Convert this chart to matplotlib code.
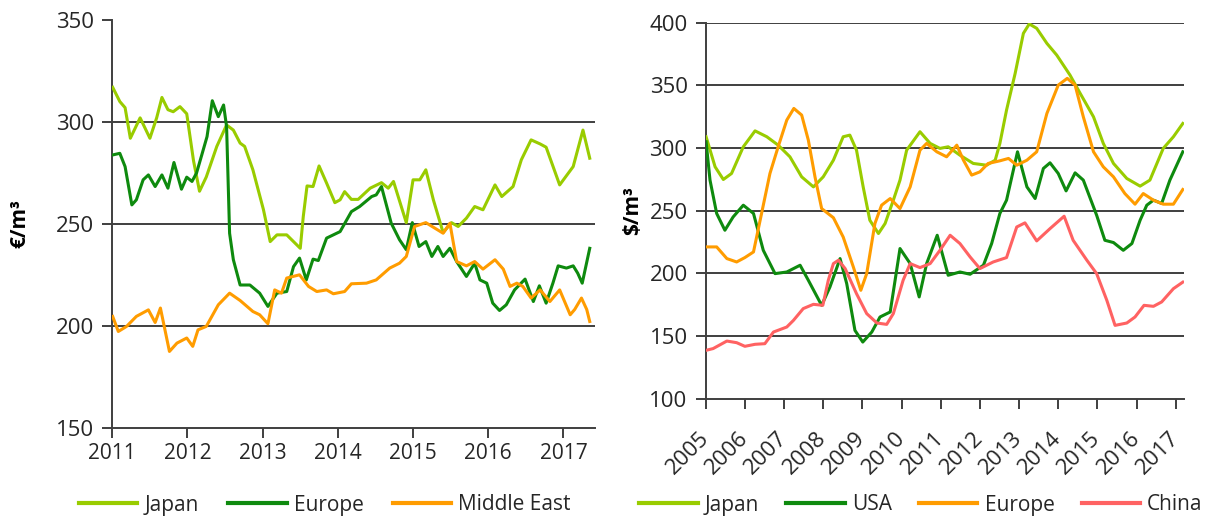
import matplotlib
matplotlib.use("Agg")
import matplotlib.pyplot as plt
from matplotlib.lines import Line2D

plt.rcParams['font.family'] = ['Open Sans', 'DejaVu Sans']

# ---------------- Left chart data (EUR/m3) ----------------
l_japan_t = [2011.005, 2011.10, 2011.17, 2011.24, 2011.37, 2011.50, 2011.59, 2011.66, 2011.74, 2011.81,
             2011.90, 2011.99, 2012.08, 2012.16, 2012.25, 2012.39, 2012.52, 2012.61, 2012.70, 2012.76,
             2012.87, 2013.01, 2013.10, 2013.19, 2013.32, 2013.41, 2013.50, 2013.54, 2013.59, 2013.67,
             2013.75, 2013.85, 2013.96, 2014.03, 2014.09, 2014.18, 2014.27, 2014.43, 2014.58, 2014.67,
             2014.74, 2014.91, 2015.00, 2015.09, 2015.17, 2015.27, 2015.40, 2015.51, 2015.60, 2015.71,
             2015.82, 2015.93, 2016.09, 2016.18, 2016.33, 2016.44, 2016.57, 2016.69, 2016.77, 2016.95,
             2017.13, 2017.26, 2017.35]
l_japan_v = [317, 310, 307, 292, 302, 292, 302, 312, 306, 305,
             307.5, 304, 281, 266, 273, 288, 298.5, 296, 289.6, 288,
             276.5, 257, 241.3, 244.6, 244.6, 241.3, 238, 253.6, 268.6, 268.3,
             278.4, 270, 260.4, 261.8, 265.8, 262, 262, 267.5, 270.2, 267.5,
             270.8, 250.6, 271.6, 271.6, 276.5, 261.8, 245.7, 250.6, 248.7, 252.8,
             258.5, 256.9, 269.1, 263.4, 268.3, 281.4, 291.2, 289.2, 287.6, 269.1,
             278.1, 296, 282.2]

l_europe_t = [2011.005, 2011.10, 2011.17, 2011.26, 2011.32, 2011.41, 2011.48, 2011.57, 2011.66, 2011.74,
              2011.82, 2011.92, 2011.99, 2012.06, 2012.12, 2012.19, 2012.26, 2012.33, 2012.41, 2012.48,
              2012.52, 2012.56, 2012.61, 2012.70, 2012.83, 2012.96, 2013.07, 2013.19, 2013.32, 2013.41,
              2013.49, 2013.58, 2013.67, 2013.74, 2013.85, 2014.03, 2014.18, 2014.29, 2014.45, 2014.51,
              2014.58, 2014.71, 2014.82, 2014.91, 2014.99, 2015.08, 2015.17, 2015.25, 2015.33, 2015.40,
              2015.49, 2015.58, 2015.71, 2015.82, 2015.89, 2015.98, 2016.06, 2016.15, 2016.24, 2016.35,
              2016.49, 2016.60, 2016.68, 2016.77, 2016.86, 2016.93, 2017.04, 2017.13, 2017.19, 2017.25,
              2017.35]
l_europe_v = [283.8, 284.6, 278.1, 259.3, 261.8, 271.6, 274, 268.3, 274, 267.5,
              280.1, 267, 272.9, 270.8, 274.9, 283.8, 292.8, 310.4, 302.6, 308.3,
              297.7, 245.4, 232.4, 220, 220, 216, 209.5, 216, 216.8, 229,
              233.2, 222.5, 232.7, 232, 243, 246.2, 256, 258.5, 263.4, 264.2,
              268.3, 250.3, 242.2, 237.3, 250.6, 238.9, 241.3, 234, 238.9, 234,
              238, 231.5, 224.2, 230.7, 222.5, 220.9, 211.1, 207.5, 210.3, 217.6,
              222.9, 211.9, 219.6, 211.1, 220.9, 229.4, 228.3, 229.4, 225.8, 220.9,
              238]

l_mideast_t = [2011.005, 2011.08, 2011.19, 2011.32, 2011.48, 2011.57, 2011.64, 2011.76, 2011.86, 2011.99,
               2012.07, 2012.14, 2012.25, 2012.41, 2012.56, 2012.70, 2012.87, 2012.96, 2013.07, 2013.16,
               2013.25, 2013.32, 2013.49, 2013.61, 2013.72, 2013.85, 2013.94, 2014.09, 2014.18, 2014.38,
               2014.51, 2014.69, 2014.82, 2014.91, 2015.02, 2015.17, 2015.40, 2015.49, 2015.58, 2015.71,
               2015.82, 2015.93, 2016.09, 2016.20, 2016.29, 2016.38, 2016.46, 2016.57, 2016.69, 2016.82,
               2016.95, 2017.09, 2017.15, 2017.24, 2017.31, 2017.35]
l_mideast_v = [204.6, 197.2, 199.7, 204.6, 207.8, 201.6, 208.7, 187.4, 191.5, 194,
               189.9, 198, 199.7, 210.3, 216, 212.4, 207, 205.4, 201, 217.6,
               216, 223.4, 225, 219.3, 216.8, 217.6, 215.7, 216.8, 220.6, 220.9,
               222.5, 228.3, 230.7, 234, 248.7, 250.6, 245.4, 250.3, 231.5, 229.4,
               231.5, 227.8, 232.4, 227.8, 219.3, 220.9, 219.3, 213.6, 217.6, 211.9,
               217.6, 205.4, 208, 213.6, 208, 202.1]

left_years = [2011, 2012, 2013, 2014, 2015, 2016, 2017]
left_yticks = [150, 200, 250, 300, 350]

# ---------------- Right chart data (USD/m3) ----------------
r_japan_t = [2005.01, 2005.24, 2005.45, 2005.66, 2005.96, 2006.26, 2006.56, 2006.85, 2007.15, 2007.45,
             2007.75, 2008.00, 2008.26, 2008.51, 2008.68, 2008.85, 2009.02, 2009.19, 2009.41, 2009.58,
             2009.79, 2009.96, 2010.13, 2010.47, 2010.73, 2010.98, 2011.19, 2011.49, 2011.83, 2012.17,
             2012.39, 2012.51, 2012.68, 2012.90, 2013.11, 2013.26, 2013.45, 2013.71, 2013.96, 2014.30,
             2014.56, 2014.90, 2015.15, 2015.41, 2015.75, 2016.09, 2016.34, 2016.68, 2016.94, 2017.18]
r_japan_v = [309, 285, 274.9, 279.7, 301, 313.7, 309, 302.3, 293, 277,
             269, 277, 290.3, 309, 310.3, 298.3, 269, 242.4, 231.8, 239.8,
             258.4, 274.4, 298.3, 313, 303.7, 299.7, 301, 294.3, 287.7, 286.3,
             290.3, 303.7, 330.3, 359.6, 391.5, 399, 395.5, 383.5, 374.2, 358.2,
             343.6, 324.9, 303.7, 287.7, 275.7, 269.6, 274.4, 299.7, 309, 319.6]

r_usa_t = [2005.01, 2005.11, 2005.28, 2005.49, 2005.70, 2005.96, 2006.22, 2006.47, 2006.77, 2007.07,
           2007.41, 2007.62, 2007.96, 2008.17, 2008.43, 2008.60, 2008.81, 2009.01, 2009.24, 2009.45,
           2009.71, 2009.96, 2010.22, 2010.45, 2010.64, 2010.91, 2011.19, 2011.49, 2011.75, 2012.09,
           2012.30, 2012.51, 2012.68, 2012.96, 2013.20, 2013.41, 2013.62, 2013.79, 2014.00, 2014.20,
           2014.43, 2014.64, 2014.98, 2015.19, 2015.41, 2015.66, 2015.88, 2016.09, 2016.26, 2016.43,
           2016.64, 2016.85, 2017.18]
r_usa_v = [305, 274.4, 247.8, 234.4, 245, 254.4, 247.8, 218.4, 199.8, 201.1,
           206.5, 194.5, 174.5, 189, 211.8, 191.8, 154.5, 145.2, 153.2, 165.2,
           169.2, 219.8, 207.8, 181.2, 207.8, 230.4, 198.5, 201.1, 199.3, 206.5,
           223.8, 247.8, 258.4, 297, 269, 259.7, 283.7, 288.2, 279.7, 265.8,
           280.2, 274.4, 246.4, 226.4, 224.6, 218.4, 223.8, 242.4, 254.4, 258.4,
           255.8, 274.4, 297]

r_europe_t = [2005.01, 2005.28, 2005.54, 2005.79, 2006.00, 2006.22, 2006.39, 2006.64, 2006.85, 2007.07,
              2007.25, 2007.45, 2007.62, 2007.79, 2007.96, 2008.26, 2008.51, 2008.77, 2008.96, 2009.11,
              2009.32, 2009.49, 2009.71, 2009.96, 2010.22, 2010.47, 2010.64, 2010.90, 2011.15, 2011.41,
              2011.58, 2011.79, 2012.00, 2012.21, 2012.51, 2012.73, 2012.94, 2013.20, 2013.45, 2013.71,
              2014.00, 2014.23, 2014.43, 2014.64, 2014.90, 2015.15, 2015.41, 2015.70, 2015.96, 2016.17,
              2016.43, 2016.68, 2016.94, 2017.18]
r_europe_v = [221.1, 221.1, 211.8, 209.1, 212.6, 217.1, 242.4, 279.7, 301, 322.3,
              331.6, 326.3, 306.3, 277, 251.7, 244.4, 229, 205, 186.5, 199.8,
              239.8, 254.4, 259.7, 251.7, 269, 298.3, 303.7, 297, 293, 302.3,
              290.3, 278.4, 281, 287.7, 289.8, 291.7, 286.3, 290.3, 297, 327.6,
              350.2, 355.6, 350.2, 324.9, 297, 285, 277, 263.7, 255.2, 263.7,
              258.4, 255.2, 255.2, 266.9]

r_china_t = [2005.01, 2005.19, 2005.54, 2005.79, 2006.00, 2006.26, 2006.51, 2006.73, 2007.07, 2007.24,
             2007.49, 2007.75, 2007.99, 2008.13, 2008.26, 2008.39, 2008.56, 2008.85, 2009.11, 2009.37,
             2009.62, 2009.79, 2010.04, 2010.22, 2010.47, 2010.73, 2010.98, 2011.24, 2011.49, 2011.75,
             2012.00, 2012.34, 2012.68, 2012.94, 2013.15, 2013.45, 2013.79, 2014.15, 2014.38, 2014.73,
             2014.98, 2015.24, 2015.45, 2015.75, 2015.96, 2016.19, 2016.43, 2016.64, 2016.94, 2017.18]
r_china_v = [138.6, 140, 146, 144.7, 141.8, 143.4, 143.9, 153.2, 157.2, 162.5,
             171.9, 175.3, 174.5, 194.5, 207.8, 210.5, 203.8, 183.8, 167.9, 160.4,
             159.3, 167.9, 194.5, 207.8, 204.6, 207.8, 218.4, 230.4, 223.8, 213.1,
             203.8, 209.1, 212.6, 237, 240.3, 225.9, 235.7, 245.6, 226.4, 210.5,
             199.8, 178.5, 158.5, 160.4, 165.2, 174.5, 173.7, 177.2, 187.8, 193]

right_years = list(range(2005, 2018))
right_yticks = [100, 150, 200, 250, 300, 350, 400]

# ---------------- Styles ----------------
C_JAPAN = '#99CC00'
C_DGREEN = '#0E8A0E'
C_ORANGE = '#FF9C00'
C_CHINA = '#FF6262'
AX_COL = '#3F3F3F'
LW = 2.2
FS = 15

W, H = 1207, 519
fig = plt.figure(figsize=(W / 100, H / 100), dpi=100)


def style_axes(ax):
    for s in ['top', 'right']:
        ax.spines[s].set_visible(False)
    for s in ['left', 'bottom']:
        ax.spines[s].set_color(AX_COL)
        ax.spines[s].set_linewidth(1.4)
    ax.tick_params(axis='both', direction='out', length=7, width=1.4, color=AX_COL,
                   labelsize=FS, labelcolor='#262626')
    ax.tick_params(axis='y', pad=6)


# Left axes
ax1 = fig.add_axes([112.3 / W, 1 - 427.7 / H, (595 - 112.3) / W, (427.7 - 20) / H])
style_axes(ax1)
ax1.set_xlim(2011, 2017.42)
ax1.set_ylim(150, 350)
ax1.set_xticks(left_years)
ax1.set_xticklabels([str(y) for y in left_years])
ax1.set_yticks(left_yticks)
ax1.tick_params(axis='y', labelsize=16)
ax1.tick_params(axis='x', pad=4)
for g in left_yticks[1:-1]:
    ax1.axhline(g, color=AX_COL, lw=1.4, zorder=1)
ax1.plot(l_japan_t, l_japan_v, color=C_JAPAN, lw=LW, zorder=3)
ax1.plot(l_europe_t, l_europe_v, color=C_DGREEN, lw=LW, zorder=3)
ax1.plot(l_mideast_t, l_mideast_v, color=C_ORANGE, lw=LW, zorder=3)
ax1.set_ylabel('€/m³', fontsize=FS, fontweight='bold')
ax1.yaxis.set_label_coords(-0.17, 0.5)

# Right axes
ax2 = fig.add_axes([705.7 / W, 1 - 398.7 / H, (1183.6 - 705.7) / W, (398.7 - 22.7) / H])
style_axes(ax2)
ax2.set_xlim(2005, 2017.2)
ax2.set_ylim(100, 400)
ax2.set_xticks(right_years)
ax2.set_xticklabels([str(y) for y in right_years], rotation=45, ha='right',
                    rotation_mode='anchor', va='center', fontsize=16)
ax2.tick_params(axis='x', pad=19)
ax2.set_yticks(right_yticks)
ax2.tick_params(axis='y', labelsize=16)
for g in right_yticks[1:]:
    ax2.axhline(g, color=AX_COL, lw=1.4, zorder=1)
ax2.plot(r_japan_t, r_japan_v, color=C_JAPAN, lw=LW, zorder=3)
ax2.plot(r_usa_t, r_usa_v, color=C_DGREEN, lw=LW, zorder=3)
ax2.plot(r_europe_t, r_europe_v, color=C_ORANGE, lw=LW, zorder=3)
ax2.plot(r_china_t, r_china_v, color=C_CHINA, lw=LW, zorder=3)
ax2.set_ylabel('$/m³', fontsize=FS, fontweight='bold')
ax2.yaxis.set_label_coords(-0.13, 0.5)

# Legends
h1 = [Line2D([], [], color=C_JAPAN, lw=3), Line2D([], [], color=C_DGREEN, lw=3),
      Line2D([], [], color=C_ORANGE, lw=3)]
fig.legend(h1, ['Japan', 'Europe', 'Middle East'], loc='center',
           bbox_to_anchor=(325 / W, 1 - 505 / H), ncol=3, frameon=False,
           handlelength=2.8, handletextpad=0.35, columnspacing=1.4, fontsize=FS,
           labelcolor='#262626', borderpad=0.1)
h2 = [Line2D([], [], color=C_JAPAN, lw=3), Line2D([], [], color=C_DGREEN, lw=3),
      Line2D([], [], color=C_ORANGE, lw=3), Line2D([], [], color=C_CHINA, lw=3)]
fig.legend(h2, ['Japan', 'USA', 'Europe', 'China'], loc='center',
           bbox_to_anchor=(921 / W, 1 - 505 / H), ncol=4, frameon=False,
           handlelength=2.8, handletextpad=0.35, columnspacing=1.3, fontsize=FS,
           labelcolor='#262626', borderpad=0.1)

fig.savefig('out.png', dpi=100)
